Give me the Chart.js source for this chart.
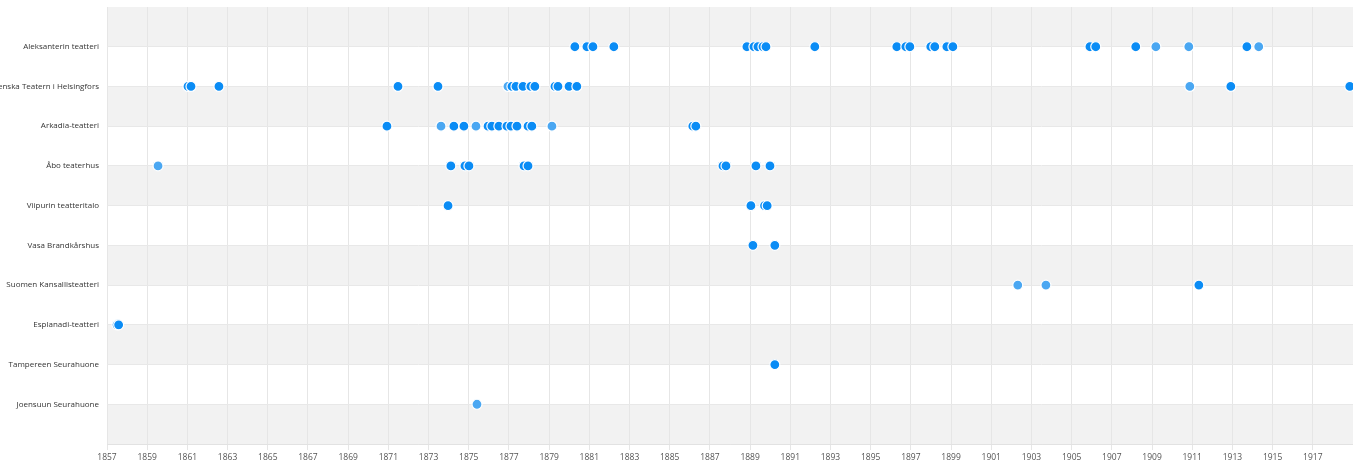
<!DOCTYPE html>
<html>
<head>
<meta charset="utf-8">
<script src="https://cdn.jsdelivr.net/npm/chart.js@4.4.1/dist/chart.umd.min.js"></script>
<style>
  html, body { margin: 0; padding: 0; background: #ffffff; overflow: hidden; }
  #wrap { width: 1353px; height: 464px; position: relative; }
</style>
</head>
<body>
<div id="wrap"><canvas id="c" width="1353" height="464"></canvas></div>
<script>
// Categories (top to bottom)
const theatres = [
  "Aleksanterin teatteri",
  "Svenska Teatern i Helsingfors",
  "Arkadia-teatteri",
  "Åbo teaterhus",
  "Viipurin teatteritalo",
  "Vasa Brandkårshus",
  "Suomen Kansallisteatteri",
  "Esplanadi-teatteri",
  "Tampereen Seurahuone",
  "Joensuun Seurahuone"
];

// Event years per theatre (strong blue dots)
const aleksanterinStrong = [1880.28, 1880.88, 1881.18, 1882.22, 1888.84, 1889.19, 1889.39, 1889.64, 1889.79, 1892.22, 1896.30, 1896.75, 1896.95, 1897.99, 1898.19, 1898.79, 1899.09, 1905.91, 1906.20, 1908.19, 1913.72];
const svenskaStrong = [1861.03, 1861.18, 1862.57, 1871.48, 1873.47, 1877.15, 1877.35, 1877.70, 1878.09, 1878.29, 1879.29, 1879.44, 1879.99, 1880.38, 1912.92, 1918.84];
const arkadiaStrong = [1870.93, 1874.26, 1874.76, 1875.96, 1876.15, 1876.50, 1876.90, 1877.10, 1877.40, 1877.95, 1878.14, 1886.15, 1886.30];
const aboStrong = [1874.11, 1874.81, 1875.01, 1877.75, 1877.95, 1887.65, 1887.80, 1889.29, 1889.99];
const viipuriStrong = [1873.97, 1889.04, 1889.72, 1889.85];
const vasaStrong = [1889.14, 1890.23];
const kansallisStrong = [1911.33];
const esplanadiStrong = [1857.50, 1857.58];
const tampereStrong = [1890.23];
const joensuuStrong = [];

// Event years per theatre (light blue dots)
const aleksanterinLight = [1909.19, 1910.83, 1914.31];
const svenskaLight = [1876.95, 1910.88];
const arkadiaLight = [1873.62, 1875.36, 1879.14];
const aboLight = [1859.54];
const viipuriLight = [];
const vasaLight = [];
const kansallisLight = [1902.32, 1903.72];
const esplanadiLight = [];
const tampereLight = [];
const joensuuLight = [1875.41];

// X axis tick labels (years)
const xTickYears = [1857,1859,1861,1863,1865,1867,1869,1871,1873,1875,1877,1879,1881,1883,1885,1887,1889,1891,1893,1895,1897,1899,1901,1903,1905,1907,1909,1911,1913,1915,1917];

const strongByTheatre = [aleksanterinStrong, svenskaStrong, arkadiaStrong, aboStrong, viipuriStrong, vasaStrong, kansallisStrong, esplanadiStrong, tampereStrong, joensuuStrong];
const lightByTheatre = [aleksanterinLight, svenskaLight, arkadiaLight, aboLight, viipuriLight, vasaLight, kansallisLight, esplanadiLight, tampereLight, joensuuLight];

function toPoints(groups) {
  const pts = [];
  groups.forEach((years, i) => years.forEach(y => pts.push({ x: y, y: i + 1 })));
  pts.sort((a, b) => a.x - b.x);
  return pts;
}

const bandPlugin = {
  id: 'bands',
  beforeDraw(chart) {
    const { ctx, chartArea, scales } = chart;
    const ys = scales.y;
    ctx.save();
    ctx.fillStyle = '#f2f2f2';
    for (let v = 0; v < 11; v += 2) {
      const y1 = ys.getPixelForValue(v);
      const y2 = ys.getPixelForValue(v + 1);
      ctx.fillRect(chartArea.left, Math.min(y1, y2), chartArea.right - chartArea.left, Math.abs(y2 - y1));
    }
    ctx.restore();
  }
};

new Chart(document.getElementById('c'), {
  type: 'scatter',
  data: {
    datasets: [
      {
        label: 'strong',
        data: toPoints(strongByTheatre),
        backgroundColor: '#0a8cf5',
        borderColor: '#ffffff',
        borderWidth: 1.2,
        pointRadius: 5,
        pointHoverRadius: 5
      },
      {
        label: 'light',
        data: toPoints(lightByTheatre),
        backgroundColor: '#4aa7f2',
        borderColor: '#ffffff',
        borderWidth: 1.2,
        pointRadius: 5,
        pointHoverRadius: 5
      }
    ]
  },
  options: {
    responsive: false,
    animation: false,
    devicePixelRatio: 1,
    layout: { autoPadding: false, padding: { top: 7, left: 0, right: 0, bottom: 0 } },
    plugins: { legend: { display: false }, tooltip: { enabled: false } },
    scales: {
      x: {
        type: 'linear',
        min: 1857,
        max: 1919,
        afterBuildTicks(scale) {
          scale.ticks = xTickYears.map(v => ({ value: v }));
        },
        afterFit(scale) {
          scale.height = 20;
          scale.paddingLeft = 0; scale.paddingRight = 0;
          scale.paddingTop = 0; scale.paddingBottom = 0;
        },
        ticks: {
          autoSkip: false,
          maxRotation: 0,
          minRotation: 0,
          padding: 2,
          color: '#555555',
          font: { family: 'Open Sans', size: 8.5 },
          callback: (v) => String(v)
        },
        grid: { color: '#e6e6e6', lineWidth: 1, drawTicks: true, tickLength: 6 },
        border: { display: true, color: '#e2e2e2' }
      },
      y: {
        type: 'linear',
        min: 0,
        max: 11,
        reverse: true,
        afterBuildTicks(scale) {
          const t = [];
          for (let v = 0; v <= 11; v++) t.push({ value: v });
          scale.ticks = t;
        },
        afterFit(scale) {
          scale.width = 107;
          scale.paddingTop = 0; scale.paddingBottom = 0;
          scale.paddingLeft = 0; scale.paddingRight = 0;
        },
        ticks: {
          autoSkip: false,
          padding: 8,
          color: '#333333',
          font: { family: 'Open Sans', size: 8 },
          callback: (v) => (v >= 1 && v <= theatres.length) ? theatres[v - 1] : ''
        },
        grid: { color: (c) => (c.tick && c.tick.value === 0) ? 'rgba(0,0,0,0)' : '#e8e8e8', lineWidth: 1, drawTicks: false },
        border: { display: false }
      }
    }
  },
  plugins: [bandPlugin]
});
</script>
</body>
</html>
